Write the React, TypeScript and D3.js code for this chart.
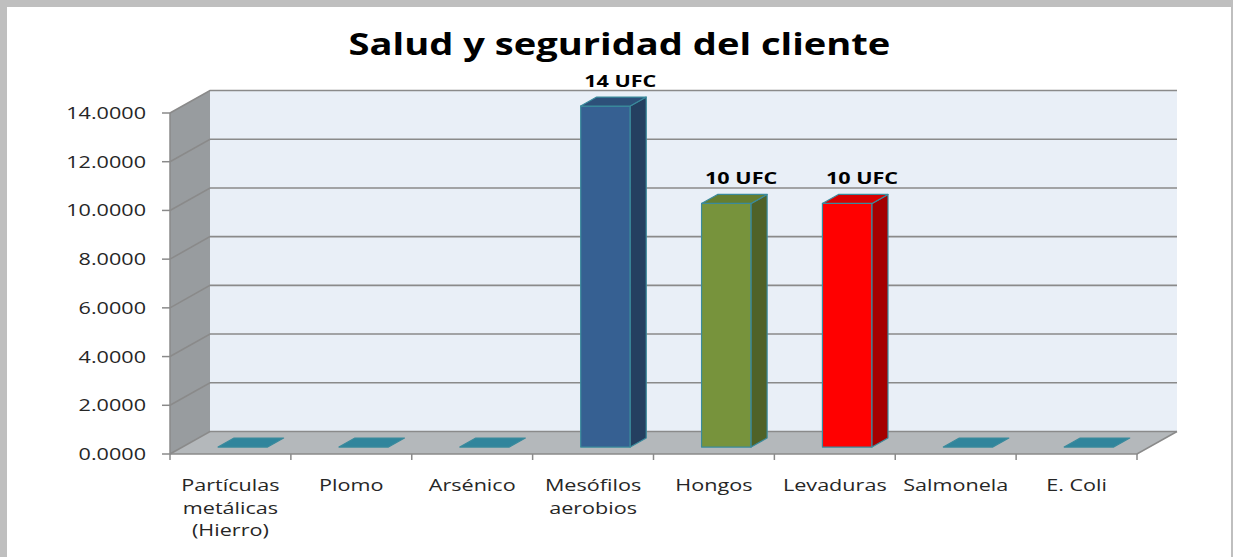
import React from 'react';
import * as d3 from 'd3';

const categories = [
  'Partículas metálicas (Hierro)',
  'Plomo',
  'Arsénico',
  'Mesófilos aerobios',
  'Hongos',
  'Levaduras',
  'Salmonela',
  'E. Coli',
];
const categoryLines = [
  ['Partículas', 'metálicas', '(Hierro)'],
  ['Plomo'],
  ['Arsénico'],
  ['Mesófilos', 'aerobios'],
  ['Hongos'],
  ['Levaduras'],
  ['Salmonela'],
  ['E. Coli'],
];
const values = [0, 0, 0, 14, 10, 10, 0, 0];
const dataLabels = ['', '', '', '14 UFC', '10 UFC', '10 UFC', '', ''];
const barColors = ['#31859c', '#31859c', '#31859c', '#366092', '#77933c', '#ff0000', '#31859c', '#31859c'];
const sideColors = ['#256473', '#256473', '#256473', '#243f60', '#4f6228', '#a50000', '#256473', '#256473'];
const topColors = ['#31859c', '#31859c', '#31859c', '#2d5079', '#657e31', '#d80000', '#31859c', '#31859c'];
const yTicks = [0, 2, 4, 6, 8, 10, 12, 14];

const W = 1233;
const H = 557;
const DX = 40;
const DY = 22.5;
const SX = 1.35; // horizontal stretch of the source picture
const FONT = '"Open Sans", sans-serif';

const App = () => {
  const x = d3.scaleBand<string>().domain(categories).range([170, 1137]);
  const y = d3.scaleLinear().domain([0, 14]).range([454, 113]);
  const proj = (px: number, v: number, d: number) => [px + d * DX, y(v) - d * DY];
  const pts = (arr: number[][]) => arr.map((p) => p.join(',')).join(' ');

  const [x0, x1] = x.range();
  const d0 = 0.31;
  const d1 = 0.71;
  const bw = x.bandwidth() * 0.41;

  const leftWall = [proj(x0, 0, 0), proj(x0, 14, 0), proj(x0, 14, 1), proj(x0, 0, 1)];
  const floor = [proj(x0, 0, 0), proj(x1, 0, 0), proj(x1, 0, 1), proj(x0, 0, 1)];
  const backTL = proj(x0, 14, 1);
  const backBR = proj(x1, 0, 1);

  const stretched = (tx: number, ty: number) => `translate(${tx},${ty}) scale(${SX},1)`;

  return (
    <svg width={W} height={H} style={{ position: 'absolute', left: 0, top: 0, background: '#fff' }}>
      {/* frame */}
      <rect x={0} y={0} width={W} height={7} fill="#bfbfbf" />
      <rect x={0} y={0} width={7} height={H} fill="#bfbfbf" />
      <rect x={1231} y={0} width={2} height={H} fill="#bfbfbf" />

      <text
        transform={`translate(${W / 2 + 3},55) scale(1.27,1)`}
        textAnchor="middle"
        fontFamily={FONT}
        fontWeight="bold"
        fontSize={30}
        fill="#000"
      >
        Salud y seguridad del cliente
      </text>

      {/* walls */}
      <rect x={backTL[0]} y={backTL[1]} width={backBR[0] - backTL[0]} height={backBR[1] - backTL[1]} fill="#e9eff7" />
      <polygon points={pts(leftWall)} fill="#989c9f" />
      <polygon points={pts(floor)} fill="#b4b8bb" />

      {yTicks.map((t) => {
        const a = proj(x0, t, 0);
        const b = proj(x0, t, 1);
        const c = proj(x1, t, 1);
        return (
          <g key={t}>
            <polyline points={pts([a, b, c])} fill="none" stroke="#8a8a8a" strokeWidth={1.6} />
            <line x1={a[0] - 8} x2={a[0]} y1={a[1]} y2={a[1]} stroke="#8a8a8a" strokeWidth={1.5} />
            <text
              transform={stretched(a[0] - 24, a[1] + 6)}
              textAnchor="end"
              fontFamily={FONT}
              fontSize={16}
              fill="#262626"
            >
              {t.toFixed(4)}
            </text>
          </g>
        );
      })}
      <line x1={x0} x2={x0} y1={y(14)} y2={y(0)} stroke="#8a8a8a" strokeWidth={1.5} />
      <polyline points={pts([proj(x0, 0, 0), proj(x1, 0, 0), proj(x1, 0, 1)])} fill="none" stroke="#8a8a8a" strokeWidth={1.6} />

      {/* category ticks and labels */}
      {categories.map((c, i) => {
        const bx = x(c) as number;
        return (
          <g key={c}>
            <line x1={bx} x2={bx} y1={y(0)} y2={y(0) + 6} stroke="#8a8a8a" strokeWidth={1.5} />
            {i === categories.length - 1 && (
              <line x1={bx + x.bandwidth()} x2={bx + x.bandwidth()} y1={y(0)} y2={y(0) + 6} stroke="#8a8a8a" strokeWidth={1.5} />
            )}
            {categoryLines[i].map((ln, j) => (
              <text
                key={ln}
                transform={stretched(bx + x.bandwidth() / 2, 491 + j * 22.5)}
                textAnchor="middle"
                fontFamily={FONT}
                fontSize={16}
                fill="#262626"
              >
                {ln}
              </text>
            ))}
          </g>
        );
      })}

      {/* bars */}
      {categories.map((c, i) => {
        const bx = (x(c) as number) + (x.bandwidth() - bw) / 2;
        const v = values[i];
        const front = [proj(bx, 0, d0), proj(bx + bw, 0, d0), proj(bx + bw, v, d0), proj(bx, v, d0)];
        const side = [proj(bx + bw, 0, d0), proj(bx + bw, 0, d1), proj(bx + bw, v, d1), proj(bx + bw, v, d0)];
        const top = [proj(bx, v, d0), proj(bx + bw, v, d0), proj(bx + bw, v, d1), proj(bx, v, d1)];
        const lp = proj((x(c) as number) + x.bandwidth() / 2, v, 0.68);
        return (
          <g key={c} stroke="#3a8a9c" strokeWidth={1.2} strokeLinejoin="round">
            {v > 0 && <polygon points={pts(front)} fill={barColors[i]} />}
            {v > 0 && <polygon points={pts(side)} fill={sideColors[i]} />}
            <polygon points={pts(top)} fill={topColors[i]} />
            {dataLabels[i] && (
              <text
                transform={stretched(lp[0], lp[1] - 11)}
                textAnchor="middle"
                fontFamily={FONT}
                fontWeight="bold"
                fontSize={16}
                fill="#000"
                stroke="none"
              >
                {dataLabels[i]}
              </text>
            )}
          </g>
        );
      })}
    </svg>
  );
};

export default App;
